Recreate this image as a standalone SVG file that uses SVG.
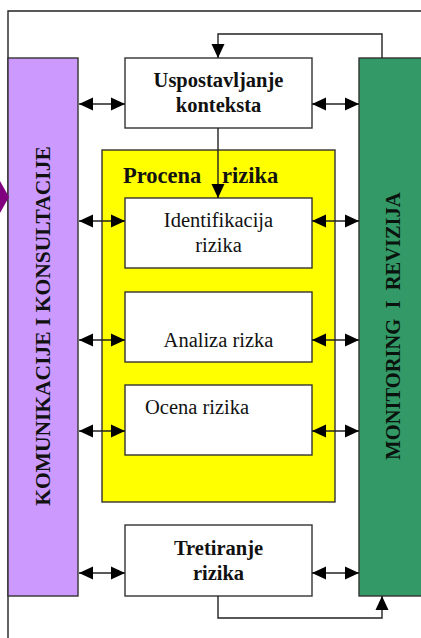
<svg xmlns="http://www.w3.org/2000/svg" width="421" height="638" viewBox="0 0 421 638">
<style>
.box{fill:#fff;stroke:#333;stroke-width:1.4}
.ln{fill:none;stroke:#222;stroke-width:1.4}
.t{font-family:"Liberation Serif","Times New Roman",serif;font-size:20.5px;fill:#111}
.b{font-weight:bold}
.c{text-anchor:middle}
</style>
<defs>
<marker id="ah" markerUnits="userSpaceOnUse" markerWidth="14" markerHeight="14" viewBox="0 0 14 14" refX="14" refY="7" orient="auto-start-reverse">
<path d="M0,0.5 L14,7 L0,13.5 z" fill="#000"/>
</marker>
</defs>
<rect width="421" height="638" fill="#fff"/>
<g id="frame">
<path class="ln" d="M421,11 H8 V638" stroke="#444"/>
</g>
<g id="komunikacije">
<rect x="8" y="58" width="70" height="538" fill="#cc99ff" stroke="#333" stroke-width="1.4"/>
<text class="t b c" style="font-size:21.5px" transform="translate(50,326) rotate(-90)">KOMUNIKACIJE I KONSULTACIJE</text>
</g>
<g id="monitoring">
<rect x="359" y="58" width="70" height="538" fill="#339966" stroke="#333" stroke-width="1.4"/>
<text class="t b c" style="font-size:20.5px;fill:#0a140e" transform="translate(400,326) rotate(-90)" xml:space="preserve">MONITORING  I  REVIZIJA</text>
</g>
<g id="procena">
<rect x="102" y="150" width="233" height="352" fill="#ffff00" stroke="#333" stroke-width="1.4"/>
<text class="t b" style="font-size:22.5px" y="183"><tspan x="123">Procena</tspan><tspan x="222">rizika</tspan></text>
</g>
<g id="uspostavljanje">
<rect class="box" x="125" y="58" width="187" height="70"/>
<text class="t b c" x="218.5" y="87">Uspostavljanje</text>
<text class="t b c" x="218.5" y="112">konteksta</text>
</g>
<g id="identifikacija">
<rect class="box" x="125" y="198" width="187" height="70"/>
<text class="t c" x="218.5" y="227">Identifikacija</text>
<text class="t c" x="218.5" y="252">rizika</text>
</g>
<g id="analiza">
<rect class="box" x="125" y="292" width="187" height="70"/>
<text class="t c" x="218.5" y="347">Analiza rizka</text>
</g>
<g id="ocena">
<rect class="box" x="125" y="385" width="187" height="70"/>
<text class="t" x="145" y="414">Ocena rizika</text>
</g>
<g id="tretiranje">
<rect class="box" x="125" y="525" width="187" height="71"/>
<text class="t b c" x="218.5" y="555">Tretiranje</text>
<text class="t b c" x="218.5" y="580">rizika</text>
</g>
<g id="connectors">
<path d="M0,181 L9,197 L0,213 z" fill="#800080"/>
<path class="ln" d="M382,58 V34 H218 V58" marker-end="url(#ah)"/>
<path class="ln" d="M218,128 V198" marker-end="url(#ah)"/>
<path class="ln" d="M218,596 V618 H382 V596" marker-end="url(#ah)"/>
<g marker-start="url(#ah)" marker-end="url(#ah)">
<path class="ln" d="M79,104 H125"/>
<path class="ln" d="M312,104 H359"/>
<path class="ln" d="M79,221 H125"/>
<path class="ln" d="M312,221 H359"/>
<path class="ln" d="M79,340 H125"/>
<path class="ln" d="M312,340 H359"/>
<path class="ln" d="M79,431 H125"/>
<path class="ln" d="M312,431 H359"/>
<path class="ln" d="M79,573 H125"/>
<path class="ln" d="M312,573 H359"/>
</g>
</g>
</svg>
